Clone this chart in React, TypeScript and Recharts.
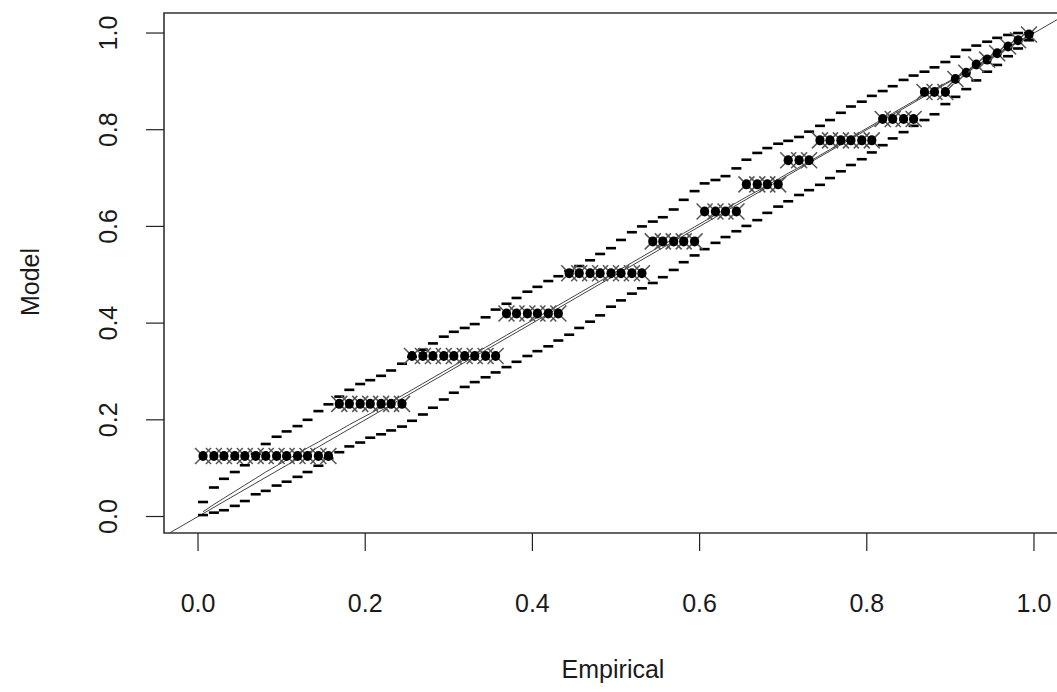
import React from 'react';
import { ComposedChart, Scatter, XAxis, YAxis, ReferenceLine, ReferenceArea } from 'recharts';

// Empirical probabilities of the observations
const empirical = [
  0.006, 0.019, 0.031, 0.044, 0.056, 0.069, 0.081, 0.094, 0.106, 0.119, 0.131, 0.144, 0.156,
  0.169, 0.181, 0.194, 0.206, 0.219, 0.231, 0.244,
  0.256, 0.269, 0.281, 0.294, 0.306, 0.319, 0.331, 0.344, 0.356,
  0.369, 0.381, 0.394, 0.406, 0.419, 0.431,
  0.444, 0.456, 0.469, 0.481, 0.494, 0.506, 0.519, 0.531,
  0.544, 0.556, 0.569, 0.581, 0.594,
  0.606, 0.619, 0.631, 0.644,
  0.656, 0.669, 0.681, 0.694,
  0.706, 0.719, 0.731,
  0.744, 0.756, 0.769, 0.781, 0.794, 0.806,
  0.819, 0.831, 0.844, 0.856,
  0.869, 0.881, 0.894,
  0.906, 0.919, 0.931, 0.944, 0.956, 0.969, 0.981, 0.994,
];

// Model (fitted) probabilities
const model = [
  0.125, 0.125, 0.125, 0.125, 0.125, 0.125, 0.125, 0.125, 0.125, 0.125, 0.125, 0.125, 0.125,
  0.233, 0.233, 0.233, 0.233, 0.233, 0.233, 0.233,
  0.332, 0.332, 0.332, 0.332, 0.332, 0.332, 0.332, 0.332, 0.332,
  0.42, 0.42, 0.42, 0.42, 0.42, 0.42,
  0.503, 0.503, 0.503, 0.503, 0.503, 0.503, 0.503, 0.503,
  0.569, 0.569, 0.569, 0.569, 0.569,
  0.631, 0.631, 0.631, 0.631,
  0.687, 0.687, 0.687, 0.687,
  0.737, 0.737, 0.737,
  0.778, 0.778, 0.778, 0.778, 0.778, 0.778,
  0.822, 0.822, 0.822, 0.822,
  0.878, 0.878, 0.878,
  0.905, 0.918, 0.935, 0.945, 0.958, 0.972, 0.985, 0.997,
];

// Simulated envelope: upper bound
const envUpper = [
  0.03, 0.06, 0.078, 0.092, 0.106, 0.13, 0.15, 0.165, 0.176, 0.187, 0.2, 0.218, 0.232,
  0.248, 0.262, 0.274, 0.282, 0.291, 0.302, 0.316,
  0.33, 0.345, 0.358, 0.372, 0.382, 0.39, 0.398, 0.412, 0.428,
  0.44, 0.452, 0.465, 0.475, 0.487, 0.497,
  0.508, 0.518, 0.53, 0.543, 0.555, 0.572, 0.588, 0.6,
  0.61, 0.619, 0.635, 0.655, 0.673,
  0.689, 0.696, 0.704, 0.72,
  0.738, 0.752, 0.762, 0.771,
  0.777, 0.785, 0.796,
  0.808, 0.82, 0.835, 0.848, 0.858, 0.87,
  0.88, 0.89, 0.903, 0.912,
  0.92, 0.929, 0.94,
  0.951, 0.965, 0.974, 0.982, 0.99, 0.996, 1.0, 1.0,
];

// Simulated envelope: lower bound
const envLower = [
  0.003, 0.008, 0.013, 0.022, 0.032, 0.046, 0.053, 0.064, 0.072, 0.082, 0.092, 0.105, 0.12,
  0.133, 0.145, 0.153, 0.163, 0.17, 0.178, 0.186,
  0.198, 0.211, 0.225, 0.242, 0.256, 0.268, 0.278, 0.288, 0.298,
  0.309, 0.32, 0.332, 0.342, 0.352, 0.364,
  0.376, 0.39, 0.403, 0.416, 0.434, 0.447, 0.461, 0.472,
  0.483, 0.495, 0.51, 0.526, 0.54,
  0.553, 0.566, 0.578, 0.59,
  0.601, 0.613, 0.628, 0.641,
  0.652, 0.665, 0.675,
  0.686, 0.7, 0.714, 0.727, 0.739, 0.753,
  0.768, 0.782, 0.795, 0.808,
  0.82, 0.832, 0.853,
  0.868, 0.884, 0.902, 0.92, 0.934, 0.952, 0.968, 0.985,
];

// Simulated envelope: median
const envMedian = [
  0.01, 0.025, 0.038, 0.052, 0.065, 0.079, 0.092, 0.105, 0.117, 0.13, 0.142, 0.154, 0.166,
  0.178, 0.19, 0.202, 0.213, 0.226, 0.238, 0.25,
  0.262, 0.275, 0.287, 0.3, 0.312, 0.325, 0.337, 0.35, 0.362,
  0.375, 0.387, 0.4, 0.412, 0.425, 0.437,
  0.45, 0.462, 0.475, 0.487, 0.5, 0.512, 0.525, 0.537,
  0.55, 0.562, 0.574, 0.586, 0.599,
  0.611, 0.624, 0.636, 0.649,
  0.661, 0.673, 0.685, 0.698,
  0.71, 0.722, 0.734,
  0.747, 0.759, 0.772, 0.784, 0.797, 0.809,
  0.822, 0.834, 0.847, 0.859,
  0.872, 0.884, 0.896,
  0.908, 0.921, 0.933, 0.946, 0.958, 0.971, 0.983, 0.995,
];

const xTicks = [0, 0.2, 0.4, 0.6, 0.8, 1.0];
const yTicks = [0, 0.2, 0.4, 0.6, 0.8, 1.0];

const X_DOMAIN: [number, number] = [-0.0407, 1.0383];
const Y_DOMAIN: [number, number] = [-0.0341, 1.0414];

const points = empirical.map((x, i) => ({ x, y: model[i] }));
const upperData = empirical.map((x, i) => ({ x, y: envUpper[i] }));
const lowerData = empirical.map((x, i) => ({ x, y: envLower[i] }));
const medianData = empirical.map((x, i) => ({ x, y: envMedian[i] }));

const FONT = '"Liberation Sans", Arial, Helvetica, sans-serif';
const TEXT = '#1a1a1a';

const CrossDot = (props: any) => {
  const { cx, cy } = props;
  if (cx == null || cy == null) return <g />;
  const h = 8;
  return (
    <g>
      <line x1={cx - h} y1={cy - h} x2={cx + h} y2={cy + h} stroke="#555" strokeWidth={1.5} />
      <line x1={cx - h} y1={cy + h} x2={cx + h} y2={cy - h} stroke="#555" strokeWidth={1.5} />
      <ellipse cx={cx} cy={cy} rx={4.6} ry={5} fill="#000" />
    </g>
  );
};

const Dash = (props: any) => {
  const { cx, cy } = props;
  if (cx == null || cy == null) return <g />;
  return <rect x={cx - 5} y={cy - 1.3} width={10} height={2.6} fill="#000" />;
};

const NoDot = () => <g />;

const XTick = (props: any) => {
  const { x, y, payload } = props;
  return (
    <text x={x} y={y + 61} textAnchor="middle" fontFamily={FONT} fontSize={25} fill={TEXT}>
      {Number(payload.value).toFixed(1)}
    </text>
  );
};

const YTick = (props: any) => {
  const { x, y, payload } = props;
  const cx = x - 38;
  return (
    <text
      transform={`translate(${cx},${y}) rotate(-90)`}
      textAnchor="middle"
      dy="0.35em"
      fontFamily={FONT}
      fontSize={25}
      fill={TEXT}
    >
      {Number(payload.value).toFixed(1)}
    </text>
  );
};

export default function App() {
  return (
    <div style={{ width: 1057, height: 692, overflow: 'hidden', position: 'relative', background: '#fff' }}>
      <style>{'body{margin:0;overflow:hidden;background:#fff}'}</style>
      <ComposedChart
        width={1090}
        height={692}
        margin={{ top: 13, right: 24, bottom: 0, left: 0 }}
      >
        <XAxis
          type="number"
          dataKey="x"
          domain={X_DOMAIN}
          ticks={xTicks}
          allowDataOverflow
          axisLine={false}
          tickLine={{ stroke: '#222', strokeWidth: 1.2 }}
          tickSize={18}
          tickMargin={0}
          height={159}
          tick={<XTick />}
          interval={0}
          label={{
            content: () => (
              <text x={613} y={678} textAnchor="middle" fontFamily={FONT} fontSize={25} fill={TEXT}>
                Empirical
              </text>
            ),
          }}
        />
        <YAxis
          type="number"
          dataKey="y"
          domain={Y_DOMAIN}
          ticks={yTicks}
          allowDataOverflow
          axisLine={false}
          tickLine={{ stroke: '#222', strokeWidth: 1.2 }}
          tickSize={18}
          tickMargin={0}
          width={164}
          tick={<YTick />}
          interval={0}
          label={{
            content: () => (
              <text
                transform="translate(39,282) rotate(-90)"
                textAnchor="middle"
                fontFamily={FONT}
                fontSize={25}
                fill={TEXT}
              >
                Model
              </text>
            ),
          }}
        />
        <ReferenceArea
          x1={X_DOMAIN[0]}
          x2={X_DOMAIN[1]}
          y1={Y_DOMAIN[0]}
          y2={Y_DOMAIN[1]}
          fill="none"
          fillOpacity={0}
          stroke="#333"
          strokeWidth={1.6}
          ifOverflow="visible"
        />
        <ReferenceLine
          segment={[{ x: -0.034, y: -0.034 }, { x: 1.038, y: 1.038 }]}
          stroke="#444"
          strokeWidth={1}
          ifOverflow="visible"
        />
        <Scatter
          data={medianData}
          dataKey="y"
          line={{ stroke: '#444', strokeWidth: 1 }}
          shape={<NoDot />}
          isAnimationActive={false}
        />
        <Scatter data={upperData} dataKey="y" shape={<Dash />} isAnimationActive={false} />
        <Scatter data={lowerData} dataKey="y" shape={<Dash />} isAnimationActive={false} />
        <Scatter data={points} dataKey="y" shape={<CrossDot />} isAnimationActive={false} />
      </ComposedChart>
    </div>
  );
}
